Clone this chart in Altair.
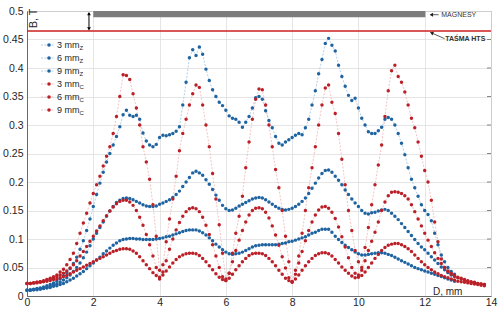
import altair as alt
import pandas as pd

# ---------------- data ----------------
# sampling positions D [mm]
X_Z = [round(i * 0.1, 1) for i in range(130)]   # 0.0 .. 12.9
X_C = [round(i * 0.1, 1) for i in range(139)]   # 0.0 .. 13.8

mm3_Z = [.010, .011, .012, .013, .014, .016, .018, .020, .023, .026,
         .030, .035, .041, .048, .057, .068, .082, .097, .115, .135,
         .157, .178, .198, .217, .235, .250, .265, .280, .297, .318,
         .326, .317, .315, .317, .310, .286, .272, .265, .262, .266,
         .278, .282, .281, .283, .285, .289, .297, .335, .375, .418,
         .432, .422, .437, .424, .398, .378, .362, .350, .340, .334,
         .326, .316, .312, .310, .305, .296, .305, .315, .330, .348,
         .350, .345, .325, .308, .295, .280, .268, .265, .270, .274,
         .278, .282, .285, .283, .295, .310, .335, .360, .390, .415,
         .443, .452, .440, .430, .405, .385, .368, .352, .343, .347,
         .330, .312, .300, .288, .285, .285, .290, .296, .310, .313,
         .310, .300, .285, .268, .248, .225, .205, .190, .175, .160,
         .150, .143, .132, .110, .090, .072, .060, .050, .043, .038]

mm6_Z = [.010, .010, .011, .012, .013, .014, .015, .017, .019, .021,
         .024, .028, .032, .037, .043, .050, .058, .067, .077, .088,
         .100, .110, .120, .130, .140, .149, .157, .164, .168, .171,
         .172, .171, .169, .166, .163, .160, .158, .157, .157, .158,
         .161, .163, .166, .169, .173, .178, .184, .192, .200, .208,
         .216, .219, .216, .212, .204, .196, .187, .177, .168, .159,
         .153, .150, .151, .154, .158, .161, .164, .167, .170, .172,
         .173, .172, .169, .165, .161, .157, .154, .152, .151, .152,
         .154, .157, .161, .166, .172, .180, .189, .198, .207, .215,
         .220, .221, .217, .210, .203, .195, .186, .178, .170, .163,
         .157, .150, .145, .144, .146, .147, .149, .151, .152, .150,
         .145, .140, .134, .127, .120, .113, .106, .099, .092, .086,
         .081, .075, .069, .063, .057, .051, .046, .041, .037, .034]

mm9_Z = [.010, .010, .011, .011, .012, .013, .014, .015, .017, .018,
         .020, .022, .025, .028, .031, .035, .039, .043, .048, .053,
         .058, .063, .068, .074, .079, .084, .089, .093, .097, .099,
         .100, .101, .101, .100, .100, .099, .099, .099, .099, .100,
         .101, .102, .104, .105, .107, .109, .111, .113, .115, .116,
         .116, .116, .114, .111, .107, .102, .097, .091, .086, .081,
         .077, .074, .073, .074, .075, .077, .080, .083, .086, .088,
         .089, .090, .090, .090, .090, .090, .091, .092, .093, .095,
         .096, .098, .100, .102, .104, .107, .110, .112, .115, .117,
         .117, .117, .112, .105, .099, .094, .089, .085, .081, .077,
         .074, .072, .072, .073, .074, .075, .076, .076, .075, .073,
         .071, .068, .065, .062, .059, .056, .053, .050, .048, .046,
         .044, .042, .040, .038, .036, .034, .032, .030, .028, .026]

mm3_C = [.022, .022, .023, .024, .025, .027, .029, .031, .034, .037,
         .042, .047, .055, .064, .075, .092, .110, .128, .145, .163,
         .180, .195, .210, .228, .245, .262, .285, .315, .350, .388,
         .387, .380, .355, .330, .300, .262, .235, .205, .160, .105,
         .045, .055, .095, .135, .170, .210, .255, .285, .310, .335,
         .355, .370, .366, .335, .300, .262, .215, .170, .125, .075,
         .030, .040, .075, .110, .140, .175, .225, .270, .310, .345,
         .363, .362, .335, .300, .262, .222, .190, .150, .105, .060,
         .025, .045, .070, .110, .150, .190, .225, .262, .300, .335,
         .365, .370, .340, .320, .285, .240, .195, .150, .115, .080,
         .060, .050, .085, .120, .160, .195, .230, .265, .315, .360,
         .395, .405, .385, .375, .358, .335, .312, .295, .270, .245,
         .220, .200, .168, .130, .095, .065, .050, .043, .038, .035,
         .032, .030, .028, .026, .024, .023, .022, .021, .020]

mm6_C = [.022, .022, .023, .024, .025, .026, .028, .030, .032, .034,
         .037, .040, .044, .049, .055, .062, .070, .078, .087, .096,
         .105, .114, .123, .132, .141, .149, .156, .162, .166, .168,
         .168, .165, .159, .150, .138, .124, .108, .090, .070, .050,
         .030, .042, .062, .082, .100, .116, .129, .140, .148, .153,
         .155, .153, .148, .138, .124, .108, .090, .070, .050, .034,
         .027, .040, .060, .080, .098, .115, .130, .142, .150, .154,
         .155, .153, .147, .137, .123, .107, .089, .069, .049, .032,
         .025, .038, .058, .078, .097, .115, .130, .142, .151, .156,
         .157, .154, .147, .136, .121, .104, .086, .067, .050, .040,
         .037, .045, .062, .080, .096, .112, .130, .150, .165, .176,
         .182, .183, .182, .180, .176, .170, .160, .148, .135, .123,
         .110, .098, .087, .076, .066, .057, .050, .044, .040, .036,
         .033, .031, .029, .027, .025, .024, .022, .021, .020]

mm9_C = [.022, .022, .023, .023, .024, .025, .026, .027, .029, .030,
         .032, .034, .036, .039, .042, .045, .048, .051, .054, .057,
         .060, .063, .066, .069, .072, .075, .078, .080, .082, .083,
         .083, .082, .079, .075, .069, .062, .055, .048, .041, .036,
         .033, .037, .044, .051, .058, .064, .069, .072, .074, .075,
         .075, .074, .071, .066, .060, .053, .046, .039, .033, .029,
         .027, .031, .038, .046, .053, .060, .066, .071, .074, .075,
         .075, .074, .071, .066, .060, .053, .045, .038, .031, .027,
         .024, .030, .037, .045, .053, .060, .066, .071, .074, .076,
         .076, .074, .070, .064, .058, .051, .045, .040, .035, .032,
         .033, .036, .042, .050, .058, .066, .073, .080, .085, .089,
         .091, .092, .092, .090, .087, .083, .078, .072, .066, .060,
         .055, .050, .046, .042, .039, .036, .034, .032, .030, .028,
         .026, .025, .024, .023, .022, .021, .020, .019, .018]

SERIES = ["3 mm Z", "6 mm Z", "9 mm Z", "3 mm C", "6 mm C", "9 mm C"]
LEG_MAIN = ["3 mm", "6 mm", "9 mm", "3 mm", "6 mm", "9 mm"]
LEG_SUB = ["Z", "Z", "Z", "C", "C", "C"]
X_TICKS = [0, 2, 4, 6, 8, 10, 12, 14]
Y_TICKS = [0, 0.05, 0.1, 0.15, 0.2, 0.25, 0.3, 0.35, 0.4, 0.45, 0.5]

# ---------------- styles ----------------
BLUE = "#1f64a0"
RED = "#bb2028"
BLUE_L = "#9cc4e2"
RED_L = "#f0b4b4"
PT_COLORS = [BLUE, BLUE, BLUE, RED, RED, RED]
LN_COLORS = [BLUE_L, BLUE_L, BLUE_L, RED_L, RED_L, RED_L]
FONT = "Liberation Sans"
W, H = 464, 285

rows = []
for name, xv, yv in zip(SERIES,
                        [X_Z, X_Z, X_Z, X_C, X_C, X_C],
                        [mm3_Z, mm6_Z, mm9_Z, mm3_C, mm6_C, mm9_C]):
    for x, y in zip(xv, yv):
        rows.append({"D": x, "B": y, "series": name})
df = pd.DataFrame(rows)

xs = alt.Scale(domain=[0, 14], nice=False, zero=False)
ys = alt.Scale(domain=[0, 0.5], nice=False, zero=False)

XAX = alt.Axis(values=X_TICKS, title=None, grid=True, gridColor="#dedede", gridWidth=0.8,
               tickSize=0, labelPadding=1, labelFontSize=10.5, labelFont=FONT,
               labelColor="#262626", domainColor="#6a6a6a", labelFlush=False,
               labelOverlap=False)
YAX = alt.Axis(values=Y_TICKS, format=".2~f", title=None, grid=True, gridColor="#dedede",
               gridWidth=0.8, tickSize=0, labelPadding=4, labelFontSize=10.5, labelFont=FONT,
               labelColor="#262626", domainColor="#6a6a6a", labelFlush=False,
               labelOverlap=False)


def X(field):
    return alt.X(field, scale=xs, axis=XAX)


def Y(field):
    return alt.Y(field, scale=ys, axis=YAX)


LINE_SCALE = alt.Scale(domain=SERIES, range=LN_COLORS)
POINT_SCALE = alt.Scale(domain=SERIES, range=PT_COLORS)

base = alt.Chart(df)

lines = base.mark_line(strokeWidth=0.8, strokeDash=[2, 1.5]).encode(
    x=X("D:Q"), y=Y("B:Q"),
    stroke=alt.Stroke("series:N", scale=LINE_SCALE, legend=None),
    detail="series:N",
)

points = base.mark_circle(size=12, opacity=1).encode(
    x=X("D:Q"), y=Y("B:Q"),
    fill=alt.Fill("series:N", scale=POINT_SCALE, legend=None),
)

# ---------- annotations ----------
bar = alt.Chart(pd.DataFrame({"x": [2.0], "x2": [12.02], "y": [0.489], "y2": [0.5]})).mark_rect(
    color="#7c7c7c").encode(x=X("x:Q"), x2="x2:Q", y=Y("y:Q"), y2="y2:Q")

tape = alt.Chart(pd.DataFrame({"x": [0.0], "x2": [14.0], "y": [0.465]})).mark_rule(
    color="#cc1f1f", strokeWidth=1.5).encode(x=X("x:Q"), x2="x2:Q", y=Y("y:Q"))

darrow = alt.Chart(pd.DataFrame({"x": [1.87], "y": [0.4965], "y2": [0.468]})).mark_rule(
    color="black", strokeWidth=1).encode(x=X("x:Q"), y=Y("y:Q"), y2="y2:Q")
heads = alt.Chart(pd.DataFrame({"x": [1.87, 1.87], "y": [0.4955, 0.4685],
                                "shape": ["triangle-up", "triangle-down"]})).mark_point(
    filled=True, color="black", size=14, opacity=1).encode(
    x=X("x:Q"), y=Y("y:Q"), shape=alt.Shape("shape:N", scale=None))

bt = alt.Chart(pd.DataFrame({"x": [0.22], "y": [0.487], "t": ["B, T"]})).mark_text(
    angle=270, fontSize=10.5, font=FONT, color="#262626").encode(
    x=X("x:Q"), y=Y("y:Q"), text="t:N")

# MAGNESY arrow + text
mag_line = alt.Chart(pd.DataFrame({"x": [12.18], "x2": [12.42], "y": [0.4935]})).mark_rule(
    color="#333333", strokeWidth=0.8).encode(x=X("x:Q"), x2="x2:Q", y=Y("y:Q"))
mag_head = alt.Chart(pd.DataFrame({"x": [12.2], "y": [0.4935]})).mark_point(
    shape="triangle-left", filled=True, color="#222222", size=16, opacity=1).encode(
    x=X("x:Q"), y=Y("y:Q"))
mag_txt = alt.Chart(pd.DataFrame({"x": [12.5], "y": [0.4935], "t": ["MAGNESY"]})).mark_text(
    align="left", baseline="middle", fontSize=7, font=FONT, color="#333333").encode(
    x=X("x:Q"), y=Y("y:Q"), text="t:N")

# TAŚMA HTS arrow + text
hts_line = alt.Chart(pd.DataFrame({"x": [12.18], "x2": [12.6], "y": [0.4622], "y2": [0.4515]})).mark_rule(
    color="#333333", strokeWidth=0.8).encode(x=X("x:Q"), x2="x2:Q", y=Y("y:Q"), y2="y2:Q")
hts_head = alt.Chart(pd.DataFrame({"x": [12.21], "y": [0.4615]})).mark_point(
    shape="triangle-up", angle=293, filled=True, color="#222222", size=16, opacity=1).encode(
    x=X("x:Q"), y=Y("y:Q"))
hts_txt = alt.Chart(pd.DataFrame({"x": [12.62], "y": [0.4505], "t": ["TAŚMA HTS"]})).mark_text(
    align="left", baseline="middle", fontSize=7, fontWeight="bold", font=FONT,
    color="#333333").encode(x=X("x:Q"), y=Y("y:Q"), text="t:N")

d_txt = alt.Chart(pd.DataFrame({"x": [12.25], "y": [0.0075], "t": ["D,  mm"]})).mark_text(
    align="left", baseline="middle", fontSize=10, font=FONT, color="#262626").encode(
    x=X("x:Q"), y=Y("y:Q"), text="t:N")

# mirrored ticks on right frame
rtick = alt.Chart(pd.DataFrame({"y": Y_TICKS[1:-1]})).mark_rule(
    color="#6a6a6a", strokeWidth=0.8).encode(
    x=alt.value(W - 4), x2=alt.value(W), y=Y("y:Q"))

# ---------- manual legend (subscripts) ----------
LEG_Y0, LEG_DY = 34, 13
leg = pd.DataFrame({
    "series": SERIES, "main": LEG_MAIN, "sub": LEG_SUB,
    "py": [LEG_Y0 + i * LEG_DY for i in range(6)],
})
leg_base = alt.Chart(leg)
leg_line = leg_base.mark_rule(strokeWidth=0.8, strokeDash=[2, 1.5]).encode(
    x=alt.value(14), x2=alt.value(28), y=alt.Y("py:Q", scale=None, axis=None),
    stroke=alt.Stroke("series:N", scale=LINE_SCALE, legend=None))
leg_dot = leg_base.mark_circle(size=13, opacity=1).encode(
    x=alt.value(22), y=alt.Y("py:Q", scale=None, axis=None),
    fill=alt.Fill("series:N", scale=POINT_SCALE, legend=None))
leg_txt = leg_base.mark_text(align="left", baseline="middle", fontSize=9, font=FONT,
                             color="#262626").encode(
    x=alt.value(30), y=alt.Y("py:Q", scale=None, axis=None), text="main:N")
leg_sub = leg_base.mark_text(align="left", baseline="middle", fontSize=6, font=FONT,
                             color="#262626", dy=3).encode(
    x=alt.value(52.5), y=alt.Y("py:Q", scale=None, axis=None), text="sub:N")

chart = alt.layer(
    lines, points, bar, tape, darrow, heads, bt,
    mag_line, mag_head, mag_txt, hts_line, hts_head, hts_txt, d_txt, rtick,
    leg_line, leg_dot, leg_txt, leg_sub,
).resolve_axis(y="shared").properties(
    width=W, height=H,
    autosize=alt.AutoSizeParams(type="none"),
    padding={"left": 27, "top": 11, "right": 7, "bottom": 13},
    background="white",
).configure_view(stroke="#8a8a8a", strokeWidth=1)

chart.save("out.html", embed_options={"renderer": "svg", "actions": False})
